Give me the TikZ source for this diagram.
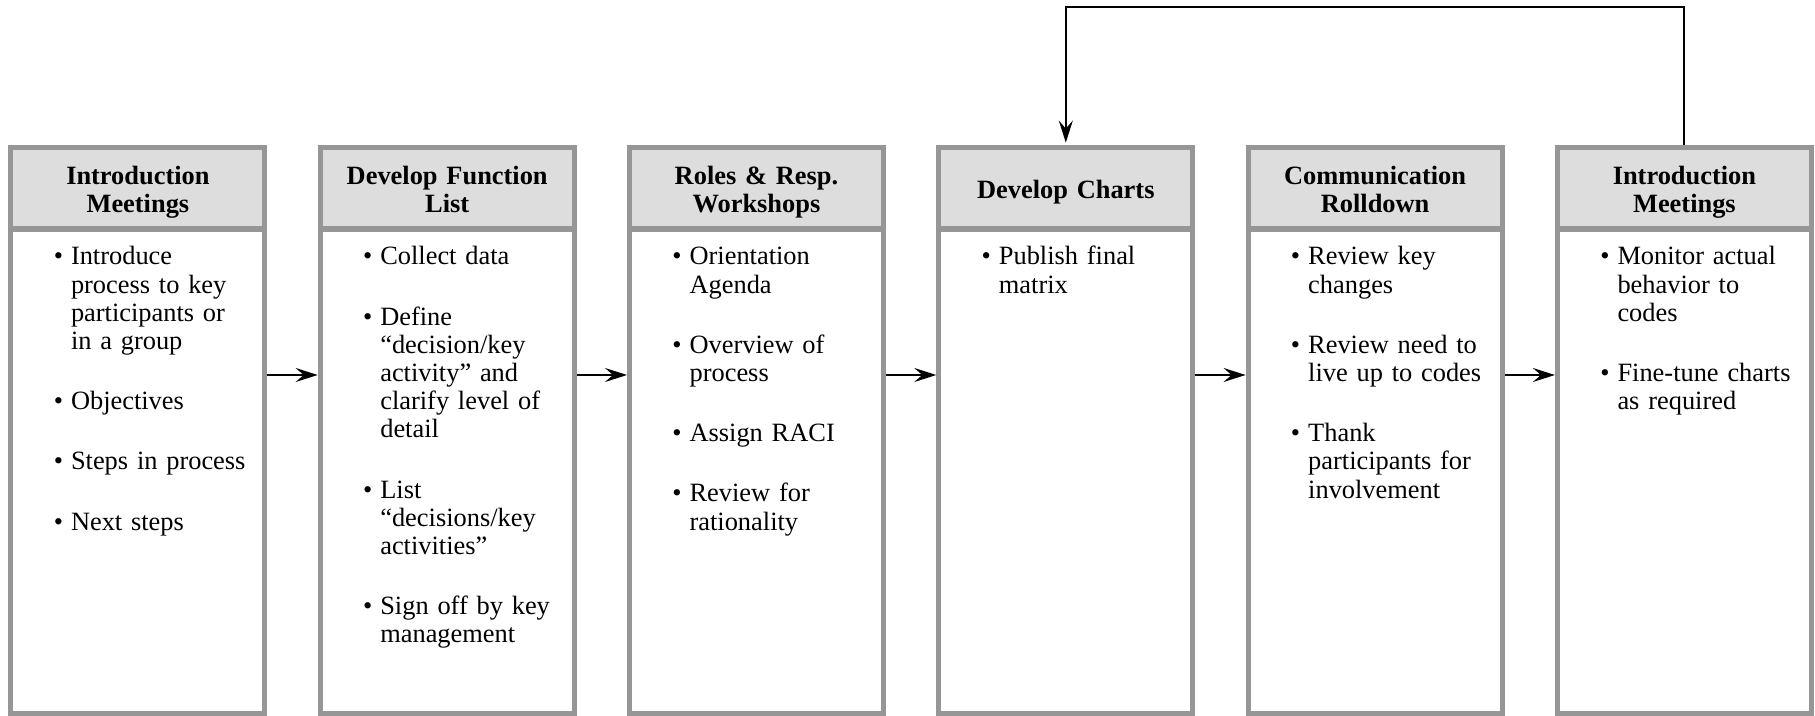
\documentclass[tikz,border=0pt]{standalone}
\usepackage{fontspec}
\setmainfont{Liberation Serif}
\usepackage{enumitem}
\usepackage{tikz}
\usetikzlibrary{arrows.meta,positioning}
\definecolor{edgegray}{HTML}{969696}
\definecolor{headgray}{HTML}{DDDDDD}
\newcommand{\blist}[1]{\begin{itemize}[leftmargin=8.8pt,labelsep=4pt,topsep=0pt,
  partopsep=0pt,parsep=0pt,itemsep=16pt]#1\end{itemize}}
\tikzset{
  arr/.style={-{Stealth[length=11pt,width=7pt,inset=4pt]},line width=1pt},
  hd/.style={rectangle,draw=edgegray,line width=2.5pt,fill=headgray,
    minimum width=127pt,minimum height=40.75pt,inner sep=0pt,
    text width=122pt,align=center,
    font=\fontsize{13.2}{13.9}\selectfont\bfseries,
    execute at begin node={\rule{0pt}{14.3pt}},
    execute at end node={\rule[-4.2pt]{0pt}{4.2pt}}},
  bd/.style={rectangle,draw=edgegray,line width=2.5pt,
    minimum width=127pt,minimum height=241.5pt,inner sep=0pt},
  lst/.style={anchor=north west,inner sep=0pt,text width=103pt,align=left,
    font=\fontsize{13.2}{14.1}\selectfont},
}
\begin{document}
\begin{tikzpicture}[node distance=25.15pt]
\useasboundingbox (0,0) rectangle (907.5pt,-358pt);

\node[hd,anchor=north west] (hd1) at (4.2pt,-72.5pt) {Introduction\\Meetings};
\node[hd,right=of hd1] (hd2) {Develop Function\\List};
\node[hd,right=of hd2] (hd3) {Roles \& Resp.\\Workshops};
\node[hd,right=of hd3] (hd4) {Develop Charts};
\node[hd,right=of hd4] (hd5) {Communication\\Rolldown};
\node[hd,right=of hd5] (hd6) {Introduction\\Meetings};

\node[bd,below=-2pt of hd1] (bd1) {};
\node[bd,below=-2pt of hd2] (bd2) {};
\node[bd,below=-2pt of hd3] (bd3) {};
\node[bd,below=-2pt of hd4] (bd4) {};
\node[bd,below=-2pt of hd5] (bd5) {};
\node[bd,below=-2pt of hd6] (bd6) {};

\node[lst] (ls1) at ([xshift=22.3pt,yshift=-4.4pt]bd1.north west)
  {\blist{\item Introduce\\process to key\\participants or\\in a group
    \item Objectives \item Steps in process \item Next steps}};
\node[lst] (ls2) at ([xshift=22.3pt,yshift=-4.4pt]bd2.north west)
  {\blist{\item Collect data
    \item Define\\“decision/key\\activity” and\\clarify level of\\detail
    \item List\\“decisions/key\\activities”
    \item Sign off by key\\management}};
\node[lst] (ls3) at ([xshift=22.3pt,yshift=-4.4pt]bd3.north west)
  {\blist{\item Orientation\\Agenda \item Overview of\\process
    \item Assign RACI \item Review for\\rationality}};
\node[lst] (ls4) at ([xshift=22.3pt,yshift=-4.4pt]bd4.north west)
  {\blist{\item Publish final\\matrix}};
\node[lst] (ls5) at ([xshift=22.3pt,yshift=-4.4pt]bd5.north west)
  {\blist{\item Review key\\changes \item Review need to\\live up to codes
    \item Thank\\participants for\\involvement}};
\node[lst] (ls6) at ([xshift=22.3pt,yshift=-4.4pt]bd6.north west)
  {\blist{\item Monitor actual\\behavior to\\codes
    \item Fine-tune charts\\as required}};

\draw[arr] ([yshift=-73.75pt]bd1.north east) -- ([yshift=-73.75pt]bd2.north west);
\draw[arr] ([yshift=-73.75pt]bd2.north east) -- ([yshift=-73.75pt]bd3.north west);
\draw[arr] ([yshift=-73.75pt]bd3.north east) -- ([yshift=-73.75pt]bd4.north west);
\draw[arr] ([yshift=-73.75pt]bd4.north east) -- ([yshift=-73.75pt]bd5.north west);
\draw[arr] ([yshift=-73.75pt]bd5.north east) -- ([yshift=-73.75pt]bd6.north west);
\draw[arr,shorten >=1.2pt] (hd6.north) -- ++(0,69pt) -| (hd4.north);
\end{tikzpicture}
\end{document}
